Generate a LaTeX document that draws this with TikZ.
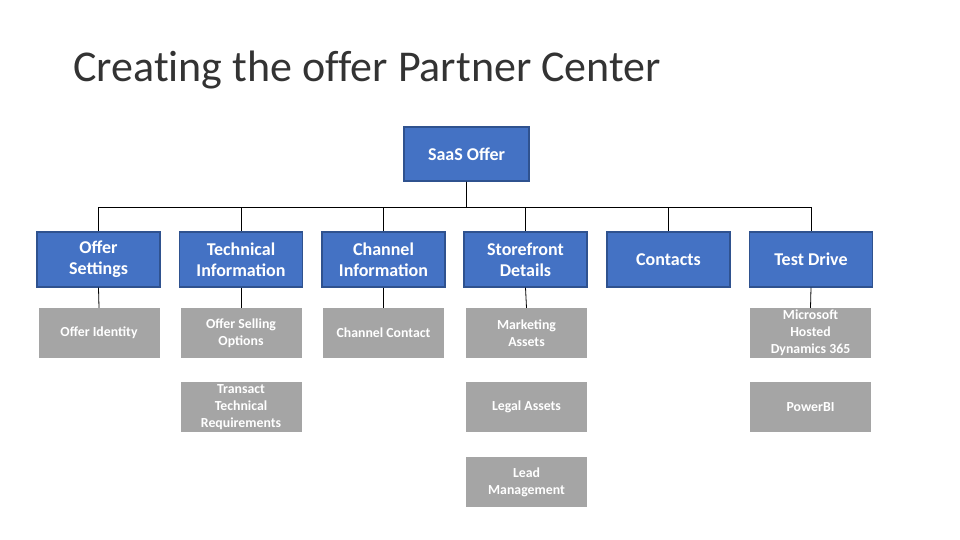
\documentclass[tikz,border=0pt]{standalone}
\usepackage{fontspec}
\setmainfont{Carlito}
\definecolor{offerblue}{HTML}{4472C4}
\definecolor{offerline}{HTML}{2F528F}
\definecolor{itemgray}{HTML}{A5A5A5}
\begin{document}
\begin{tikzpicture}[x=1pt,y=-1pt,
    sectionbox/.style={draw=offerline, fill=offerblue, line width=1.2pt, text=white,
      font=\bfseries\fontsize{18}{21}\selectfont, align=center,
      minimum width=123pt, minimum height=55pt, inner sep=0pt},
    itembox/.style={fill=itemgray, text=white,
      font=\bfseries\fontsize{13.8}{17}\selectfont, align=center,
      minimum width=121pt, minimum height=50pt, inner sep=0pt},
    link/.style={draw=black, line width=0.8pt}]
    \useasboundingbox (0,0) rectangle (960,540);

    % title
    \node [anchor=base west, font=\fontsize{44}{48}\selectfont\addfontfeatures{Ligatures=NoCommon},
           text=black!80, inner sep=0pt] (title) at (73,82) {Creating the offer Partner Center};

    % top box
    \node [sectionbox, minimum width=125pt, minimum height=54pt] (saas) at (466.5,154) {SaaS Offer};

    % sections
    \node [sectionbox] (settings)   at (98.5,259.5)  {Offer\\Settings};
    \node [sectionbox] (technical)  at (241,259.5)   {Technical\\Information};
    \node [sectionbox] (channel)    at (383.5,259.5) {Channel\\Information};
    \node [sectionbox] (storefront) at (525.5,259.5) {Storefront\\Details};
    \node [sectionbox] (contacts)   at (668.5,259.5) {Contacts};
    \node [sectionbox] (testdrive)  at (811,259.5)   {Test Drive};

    % items
    \node [itembox] (identity)  at (99,333)    {Offer Identity};
    \node [itembox] (selling)   at (241,333)   {Offer Selling\\Options};
    \node [itembox] (transact)  at (241,407)   {Transact\\Technical\\Requirements};
    \node [itembox] (chcontact) at (383.5,333) {Channel Contact};
    \node [itembox] (marketing) at (526.5,333) {Marketing\\Assets};
    \node [itembox] (legal)     at (526.5,407) {Legal Assets};
    \node [itembox] (lead)      at (526.5,482) {Lead\\Management};
    \node [itembox] (dynamics)  at (810.5,333) {Microsoft\\Hosted\\Dynamics 365};
    \node [itembox] (powerbi)   at (810.5,407) {PowerBI};

    % tree lines
    \coordinate (bus) at (0,207);
    \foreach \sec in {settings,technical,channel,storefront,contacts,testdrive}
      \draw [link] (saas.south) |- (bus -| \sec.north) -- (\sec.north);
    \foreach \sec/\item in {settings/identity,technical/selling,channel/chcontact,storefront/marketing,testdrive/dynamics}
      \draw [link] (\sec.south) -- (\item.north);
\end{tikzpicture}
\end{document}
